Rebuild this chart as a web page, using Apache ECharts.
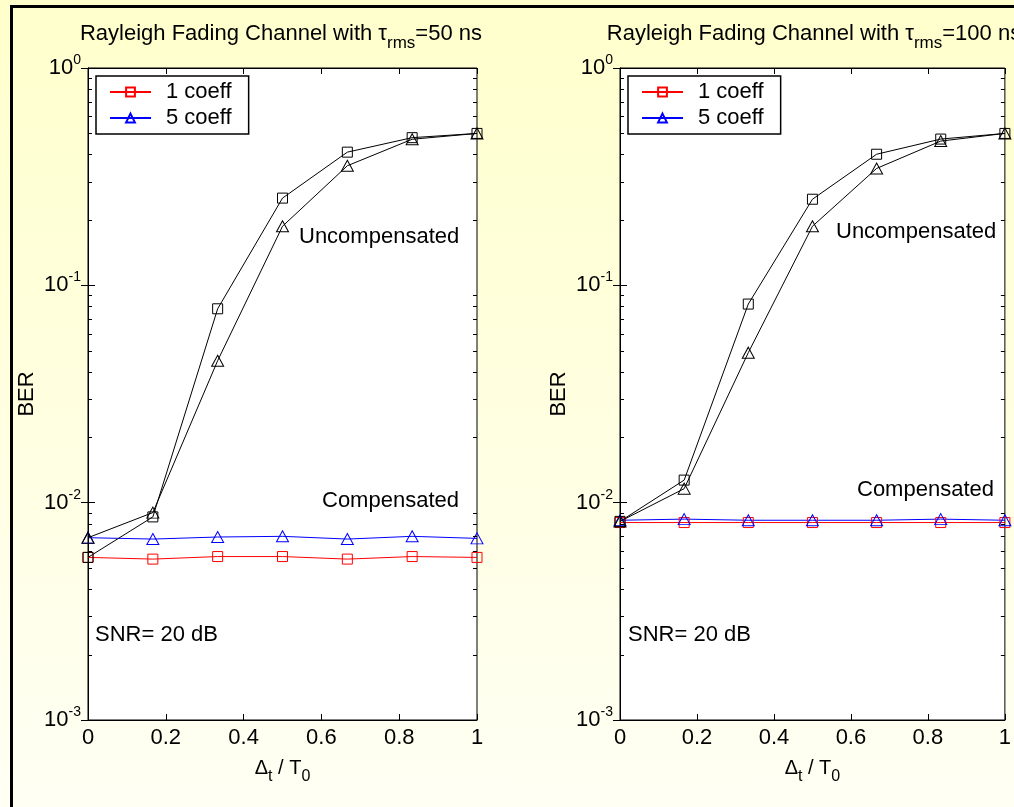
<!DOCTYPE html>
<html style="height: 100%">

<head>
	<meta charset="utf-8">
	<script type="text/javascript" src="https://cdn.jsdelivr.net/npm/echarts@6/dist/echarts.min.js"></script>
</head>

<body style="height: 100%; margin: 0; background: linear-gradient(#ffffcc, #fffff4);">
	<div id="container" style="width: 1014px; height: 807px"></div>
	<script type="text/javascript">
		// x positions: delay offset / symbol period
		let xValues = [0, 0.1667, 0.3333, 0.5, 0.6667, 0.8333, 1];

		// tau_rms = 50 ns
		let comp1_50 = [0.0056, 0.0055, 0.00565, 0.00565, 0.0055, 0.00565, 0.0056];
		let comp5_50 = [0.0069, 0.0068, 0.00695, 0.0070, 0.0068, 0.0070, 0.00685];
		let uncomp1_50 = [0.0056, 0.0086, 0.078, 0.252, 0.41, 0.478, 0.50];
		let uncomp5_50 = [0.0069, 0.0090, 0.045, 0.187, 0.355, 0.47, 0.50];

		// tau_rms = 100 ns
		let comp1_100 = [0.0081, 0.0081, 0.0081, 0.0081, 0.0081, 0.0081, 0.0081];
		let comp5_100 = [0.0083, 0.0084, 0.0083, 0.0083, 0.0083, 0.0084, 0.0083];
		let uncomp1_100 = [0.0082, 0.0127, 0.082, 0.249, 0.401, 0.471, 0.50];
		let uncomp5_100 = [0.0082, 0.0116, 0.049, 0.187, 0.345, 0.461, 0.50];

		// minor ticks of the log axis
		let minorTicks = [0.002, 0.003, 0.004, 0.005, 0.006, 0.007, 0.008, 0.009,
			0.02, 0.03, 0.04, 0.05, 0.06, 0.07, 0.08, 0.09,
			0.2, 0.3, 0.4, 0.5, 0.6, 0.7, 0.8, 0.9];

		let legendNames = ['1 coeff', '5 coeff'];
		let font = 'Liberation Sans, Arial, sans-serif';

		let dom = document.getElementById("container");
		let myChart = echarts.init(dom);

		function pairs(ys) {
			return ys.map(function (y, i) { return [xValues[i], y]; });
		}

		function minorTickItem(params, api) {
			let v = api.value(1);
			let a = api.coord([0, v]);
			let b = api.coord([1, v]);
			let y = Math.round(a[1]) + 0.5;
			let st = { stroke: '#000', lineWidth: 1 };
			return {
				type: 'group',
				children: [
					{ type: 'line', shape: { x1: a[0], y1: y, x2: a[0] + 4, y2: y }, style: st },
					{ type: 'line', shape: { x1: b[0] - 4, y1: y, x2: b[0], y2: y }, style: st }
				]
			};
		}

		function lineSeries(name, data, color, symbol, gi) {
			return {
				name: name,
				type: 'line',
				xAxisIndex: gi * 2,
				yAxisIndex: gi * 2,
				data: pairs(data),
				symbol: symbol,
				symbolSize: symbol === 'rect' ? 10 : [12, 11],
				clip: false,
				lineStyle: { color: color, width: 1 },
				itemStyle: { color: 'rgba(0,0,0,0)', borderColor: color, borderWidth: 1 },
				emphasis: { disabled: true }
			};
		}

		function xAxes(gi) {
			return [
				{
					type: 'value', gridIndex: gi, min: 0, max: 1, interval: 0.2,
					position: 'bottom',
					axisLine: { lineStyle: { color: '#000', width: 1 } },
					axisTick: { inside: true, length: 6, lineStyle: { color: '#000' } },
					axisLabel: { color: '#000', fontSize: 22, fontFamily: font, margin: 7 },
					splitLine: { show: false },
					name: '{n|Δ}{s|t}{n| / T}{s|0}',
					nameLocation: 'middle',
					nameGap: 31,
					nameTextStyle: {
						color: '#000',
						rich: {
							n: { fontSize: 20, fontFamily: font, lineHeight: 34, color: '#000' },
							s: { fontSize: 16, fontFamily: font, lineHeight: 15, verticalAlign: 'bottom', color: '#000' }
						}
					}
				},
				{
					type: 'value', gridIndex: gi, min: 0, max: 1, interval: 0.2,
					position: 'top',
					axisLine: { lineStyle: { color: '#000', width: 1 } },
					axisTick: { inside: true, length: 6, lineStyle: { color: '#000' } },
					axisLabel: { show: false },
					splitLine: { show: false }
				}
			];
		}

		function yAxes(gi) {
			return [
				{
					type: 'log', logBase: 10, gridIndex: gi, min: 0.001, max: 1,
					position: 'left',
					axisLine: { lineStyle: { color: '#000', width: 1 } },
					axisTick: { inside: true, length: 7, lineStyle: { color: '#000' } },
					axisLabel: {
						color: '#000',
						margin: 7,
						formatter: function (v) {
							return '{b|10}{s|' + Math.round(Math.log10(v)) + '}';
						},
						rich: {
							b: { fontSize: 22, fontFamily: font, lineHeight: 30, color: '#000' },
							s: { fontSize: 14, fontFamily: font, lineHeight: 14, verticalAlign: 'top', color: '#000' }
						}
					},
					splitLine: { show: false },
					name: 'BER',
					nameLocation: 'middle',
					nameRotate: 90,
					nameGap: 50,
					nameTextStyle: { color: '#000', fontSize: 22, fontFamily: font }
				},
				{
					type: 'log', logBase: 10, gridIndex: gi, min: 0.001, max: 1,
					position: 'right',
					axisLine: { lineStyle: { color: '#000', width: 1 } },
					axisTick: { inside: true, length: 7, lineStyle: { color: '#000' } },
					axisLabel: { show: false },
					splitLine: { show: false }
				}
			];
		}

		function titleFor(tau, cx) {
			return {
				text: '{t|Rayleigh Fading Channel with τ}{s|rms}{t|=' + tau + ' ns}',
				left: cx,
				top: 15,
				padding: 0,
				textAlign: 'center',
				textStyle: {
					fontWeight: 'normal',
					rich: {
						t: { fontSize: 22, fontFamily: font, fontWeight: 'normal', lineHeight: 37, color: '#000' },
						s: { fontSize: 17, fontFamily: font, fontWeight: 'normal', lineHeight: 16, verticalAlign: 'bottom', color: '#000' }
					}
				}
			};
		}

		function legendAt(left) {
			return {
				data: legendNames,
				orient: 'vertical',
				left: left,
				top: 76,
				padding: [4, 17, 4, 13],
				itemGap: 2,
				itemWidth: 41,
				itemHeight: 11,
				backgroundColor: '#fff',
				borderColor: '#000',
				borderWidth: 1.5,
				selectedMode: false,
				textStyle: { color: '#000', fontSize: 22, fontFamily: font, lineHeight: 24, padding: [0, 0, 0, 10] }
			};
		}

		function note(text, x, y) {
			return {
				type: 'text',
				x: x,
				y: y,
				z: 100,
				style: {
					text: text,
					font: '22px ' + font,
					fill: '#000',
					align: 'left',
					verticalAlign: 'middle',
					textAlign: 'left',
					textVerticalAlign: 'middle'
				}
			};
		}

		let option = {
			animation: false,
			title: [titleFor(50, 281), titleFor(100, 814)],
			legend: [legendAt(96), legendAt(628)],
			grid: [
				{ left: 88, top: 68, width: 389, height: 652, show: true, backgroundColor: '#fff', borderColor: '#000', borderWidth: 1 },
				{ left: 620, top: 68, width: 388, height: 652, show: true, backgroundColor: '#fff', borderColor: '#000', borderWidth: 1 }
			],
			xAxis: xAxes(0).concat(xAxes(1)),
			yAxis: yAxes(0).concat(yAxes(1)),
			graphic: [
				{
					type: 'rect',
					shape: { x: 11.5, y: 6.5, width: 1200, height: 1000 },
					style: { fill: null, stroke: '#000', lineWidth: 3 },
					z: -10
				},
				note('Uncompensated', 299, 237),
				note('Compensated', 322, 501),
				note('SNR= 20 dB', 95, 635),
				note('Uncompensated', 836, 232),
				note('Compensated', 857, 490),
				note('SNR= 20 dB', 628, 635)
			],
			series: [
				lineSeries('1 coeff', comp1_50, '#ff0000', 'rect', 0),
				lineSeries('5 coeff', comp5_50, '#0000ff', 'triangle', 0),
				lineSeries('Uncompensated 1 coeff', uncomp1_50, '#000', 'rect', 0),
				lineSeries('Uncompensated 5 coeff', uncomp5_50, '#000', 'triangle', 0),
				lineSeries('1 coeff', comp1_100, '#ff0000', 'rect', 1),
				lineSeries('5 coeff', comp5_100, '#0000ff', 'triangle', 1),
				lineSeries('Uncompensated 1 coeff', uncomp1_100, '#000', 'rect', 1),
				lineSeries('Uncompensated 5 coeff', uncomp5_100, '#000', 'triangle', 1),
				{
					type: 'custom', xAxisIndex: 0, yAxisIndex: 0, silent: true, clip: false, z: 5,
					data: minorTicks.map(function (v) { return [0, v]; }),
					renderItem: minorTickItem
				},
				{
					type: 'custom', xAxisIndex: 2, yAxisIndex: 2, silent: true, clip: false, z: 5,
					data: minorTicks.map(function (v) { return [0, v]; }),
					renderItem: minorTickItem
				}
			]
		};

		myChart.setOption(option);
	</script>
</body>

</html>
